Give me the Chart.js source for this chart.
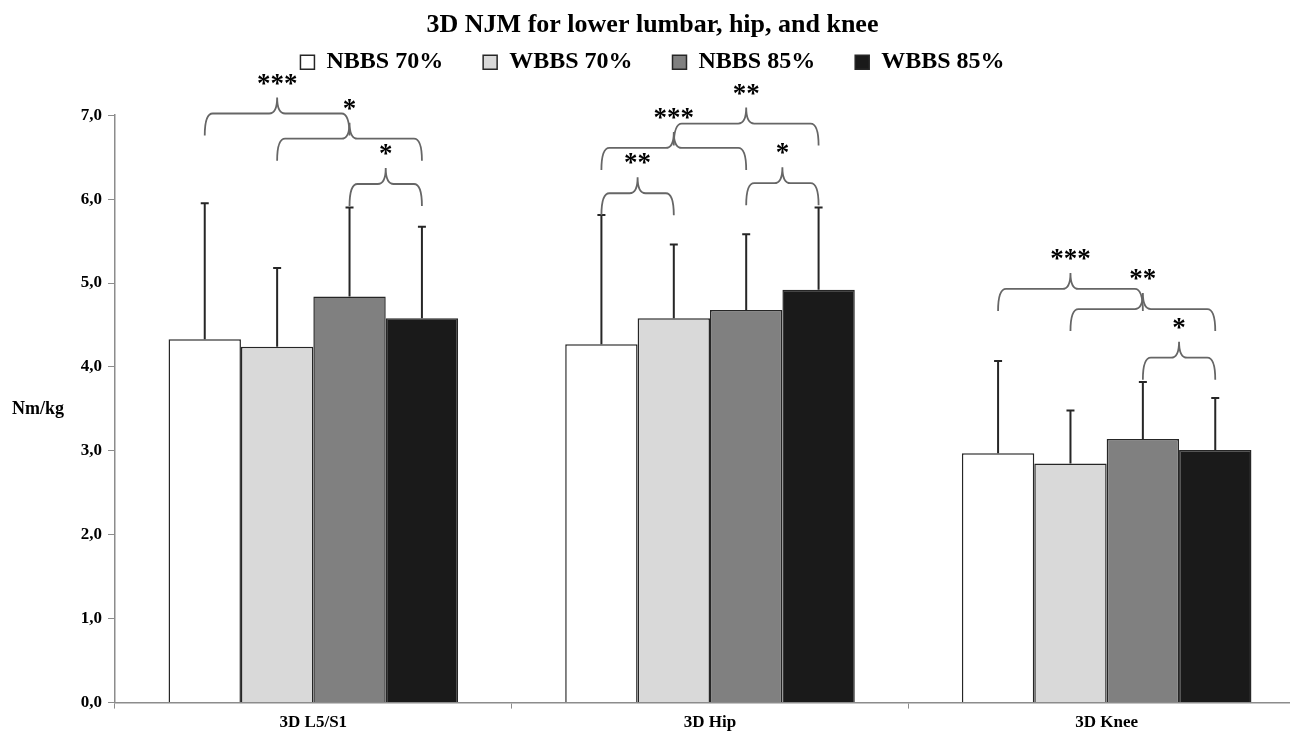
<!DOCTYPE html>
<html>
<head>
<meta charset="utf-8">
<script src="https://cdn.jsdelivr.net/npm/chart.js@4.4.1/dist/chart.umd.min.js"></script>
<style>
  html, body { margin: 0; padding: 0; background: #fff; overflow: hidden; }
  #wrap { position: relative; width: 1310px; height: 733px; }
</style>
</head>
<body>
<div id="wrap"><canvas id="myChart"></canvas></div>
<script>
// categories and series
var categories = ["3D L5/S1", "3D Hip", "3D Knee"];
var seriesNames = ["NBBS 70%", "WBBS 70%", "NBBS 85%", "WBBS 85%"];

// means (Nm/kg), one array per series, in category order
var nbbs70 = [4.33, 4.27, 2.97];
var wbbs70 = [4.24, 4.58, 2.85];
var nbbs85 = [4.84, 4.68, 3.14];
var wbbs85 = [4.58, 4.92, 3.01];

// standard deviations (upper error bars)
var nbbs70Sd = [1.62, 1.54, 1.10];
var wbbs70Sd = [0.94, 0.88, 0.63];
var nbbs85Sd = [1.06, 0.90, 0.68];
var wbbs85Sd = [1.09, 0.98, 0.62];

// y axis ticks
var yTicks = [0, 1, 2, 3, 4, 5, 6, 7];

// significance brackets: [category, series a, series b, level (Nm/kg), label]
var brackets = [
  [0, 0, 2, 7.02, "***"],
  [0, 1, 3, 6.72, "*"],
  [0, 2, 3, 6.18, "*"],
  [1, 0, 1, 6.07, "**"],
  [1, 0, 2, 6.61, "***"],
  [1, 1, 3, 6.90, "**"],
  [1, 2, 3, 6.19, "*"],
  [2, 0, 2, 4.93, "***"],
  [2, 1, 3, 4.69, "**"],
  [2, 2, 3, 4.11, "*"]
];

var means = [nbbs70, wbbs70, nbbs85, wbbs85];
var sds = [nbbs70Sd, wbbs70Sd, nbbs85Sd, wbbs85Sd];
var fills = ["#ffffff", "#d9d9d9", "#808080", "#1a1a1a"];
var serif = "'Liberation Serif', 'Times New Roman', serif";

function setup() {
  // error bars on top of each bar
  var errorBars = {
    id: 'errorBars',
    afterDatasetsDraw: function(chart) {
      var ctx = chart.ctx, y = chart.scales.y;
      ctx.save();
      ctx.strokeStyle = '#262626';
      ctx.lineWidth = 2;
      for (var s = 0; s < means.length; s++) {
        var meta = chart.getDatasetMeta(s);
        for (var c = 0; c < categories.length; c++) {
          var bar = meta.data[c];
          var top = y.getPixelForValue(means[s][c] + sds[s][c]);
          var base = y.getPixelForValue(means[s][c]);
          ctx.beginPath();
          ctx.moveTo(bar.x, base);
          ctx.lineTo(bar.x, top);
          ctx.moveTo(bar.x - 4, top);
          ctx.lineTo(bar.x + 4, top);
          ctx.stroke();
        }
      }
      ctx.restore();
    }
  };

  // curly braces with stars
  var sigBrackets = {
    id: 'sigBrackets',
    afterDraw: function(chart) {
      var ctx = chart.ctx, y = chart.scales.y;
      var drop = 22, rise = 16, r = 8;
      ctx.save();
      ctx.lineWidth = 1.8;
      for (var i = 0; i < brackets.length; i++) {
        var b = brackets[i];
        var x1 = chart.getDatasetMeta(b[1]).data[b[0]].x;
        var x2 = chart.getDatasetMeta(b[2]).data[b[0]].x;
        var xc = (x1 + x2) / 2;
        var yl = y.getPixelForValue(b[3]);
        ctx.strokeStyle = '#666666';
        ctx.beginPath();
        ctx.moveTo(x1, yl + drop);
        ctx.quadraticCurveTo(x1, yl, x1 + r, yl);
        ctx.lineTo(xc - r, yl);
        ctx.quadraticCurveTo(xc, yl, xc, yl - rise);
        ctx.quadraticCurveTo(xc, yl, xc + r, yl);
        ctx.lineTo(x2 - r, yl);
        ctx.quadraticCurveTo(x2, yl, x2, yl + drop);
        ctx.stroke();
        ctx.fillStyle = '#000';
        ctx.font = 'bold 27px ' + serif;
        ctx.textAlign = 'center';
        ctx.textBaseline = 'alphabetic';
        ctx.fillText(b[4], xc, yl - rise - 6);
      }
      // horizontal y-axis title
      ctx.fillStyle = '#000';
      ctx.font = 'bold 18px ' + serif;
      ctx.textAlign = 'left';
      ctx.textBaseline = 'middle';
      ctx.fillText('Nm/kg', 12, y.getPixelForValue(3.5));
      ctx.restore();
    }
  };

  // extra room under the legend
  var legendGap = {
    id: 'legendGap',
    beforeInit: function(chart) {
      var fit = chart.legend.fit;
      chart.legend.fit = function() {
        fit.bind(chart.legend)();
        this.height += 31;
      };
    }
  };

  var datasets = [];
  for (var s = 0; s < seriesNames.length; s++) {
    datasets.push({
      label: seriesNames[s],
      data: means[s],
      backgroundColor: fills[s],
      borderColor: '#262626',
      borderWidth: 1.5,
      barPercentage: 1.0,
      categoryPercentage: 0.73
    });
  }

  var ctx = document.getElementById('myChart').getContext('2d');
  var chart = new Chart(ctx, {
    type: 'bar',
    data: { labels: categories, datasets: datasets },
    plugins: [errorBars, sigBrackets, legendGap],
    options: {
      responsive: true,
      maintainAspectRatio: false,
      animation: false,
      layout: { padding: { left: 0, right: 5, top: 0, bottom: -4 } },
      plugins: {
        title: {
          display: true,
          text: '3D NJM for lower lumbar, hip, and knee',
          color: '#000',
          font: { family: serif, size: 26, weight: 'bold' },
          padding: { top: 10, bottom: -31 }
        },
        legend: {
          display: true,
          labels: {
            color: '#000',
            font: { family: serif, size: 24, weight: 'bold' },
            boxWidth: 14,
            boxHeight: 14,
            padding: 40
          }
        },
        tooltip: { enabled: false }
      },
      scales: {
        x: {
          grid: { display: true, drawOnChartArea: false, offset: true, tickLength: 6, color: '#8c8c8c' },
          border: { color: '#8c8c8c', width: 1.5 },
          ticks: { color: '#000', font: { family: serif, size: 17, weight: 'bold' }, padding: 4 }
        },
        y: {
          min: 0,
          max: 7,
          afterBuildTicks: function(axis) {
            axis.ticks = yTicks.map(function(v) { return { value: v }; });
          },
          afterFit: function(axis) { axis.width = 115; },
          grid: { display: true, drawOnChartArea: false, tickLength: 7, color: '#8c8c8c' },
          border: { color: '#8c8c8c', width: 1.5 },
          ticks: {
            color: '#000',
            font: { family: serif, size: 17, weight: 'bold' },
            padding: 6,
            callback: function(v) { return v.toFixed(1).replace('.', ','); }
          }
        }
      }
    }
  });
}
window.onload = setup;
</script>
</body>
</html>
